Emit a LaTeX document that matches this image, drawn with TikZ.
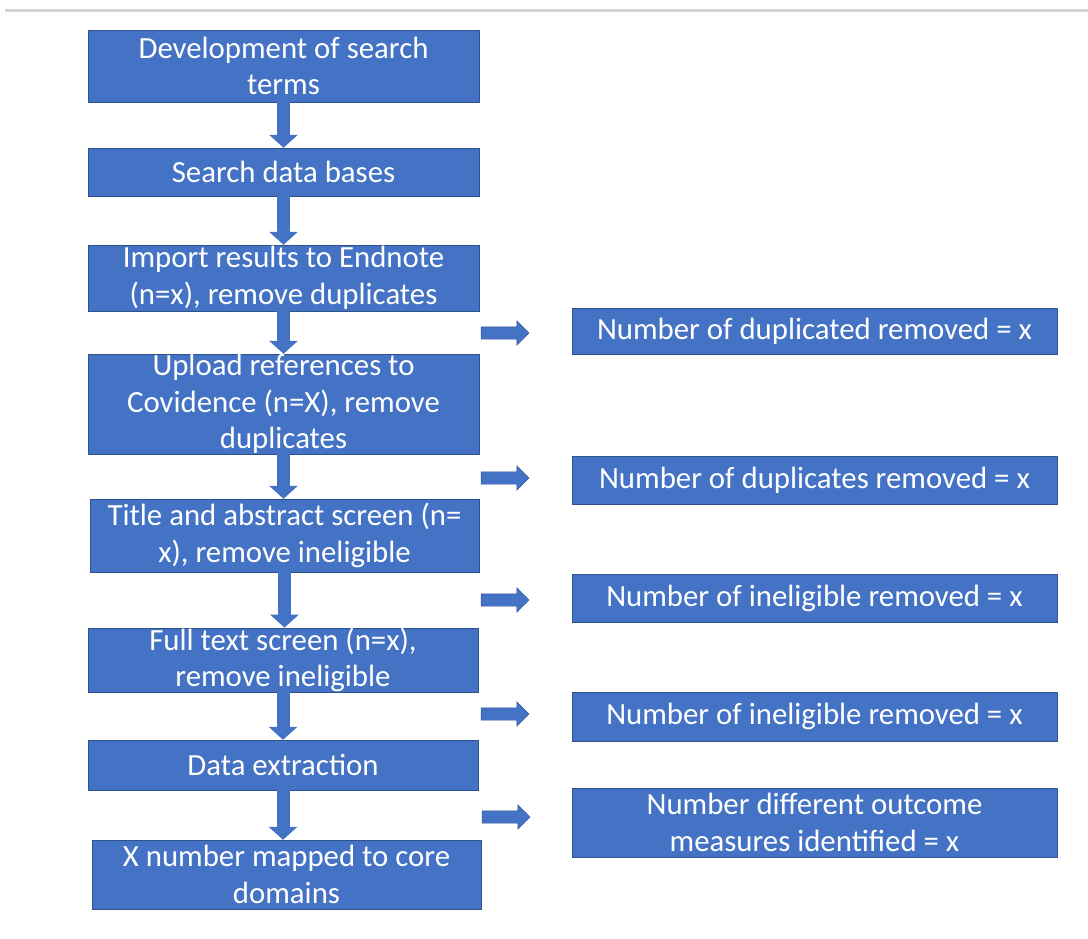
\documentclass[tikz,border=0pt]{standalone}
\usepackage{fontspec}
\setmainfont{Carlito}
\usepackage{xcolor}
\usepackage{tikz}
\usetikzlibrary{arrows.meta}
\usetikzlibrary{shapes.arrows}

\definecolor{boxblue}{HTML}{4472C4}
\definecolor{boxedge}{HTML}{2F528F}
\definecolor{rulegray}{HTML}{D4D4D4}

\tikzset{
    stepbox/.style = {draw = boxedge, fill = boxblue, text = white, align = center,
        inner sep = 0pt, font = \fontsize{30.8}{36.5}\selectfont},
    downarr/.style = {boxblue, line width = 13pt,
        -{Triangle[length = 13pt, width = 28pt]}, shorten <= -1pt},
    sidearr/.style = {single arrow, draw = boxedge, fill = boxblue, minimum height = 48pt,
        minimum width = 0pt, single arrow head extend = 6pt, inner xsep = 0pt,
        inner ysep = 6pt}
}

\begin{document}
\begin{tikzpicture}[x = 1pt, y = -1pt]
        \useasboundingbox (0, 0) rectangle (1088, 938);
        \draw[rulegray, line width = 3pt] (5, 10) -- (1088, 10);

        \node[stepbox, minimum width = 391pt, minimum height = 72pt] (develop) at (283.5, 66)
            {Development of search\\terms};
        \node[stepbox, minimum width = 391pt, minimum height = 48pt] (search) at (283.5, 172)
            {Search data bases};
        \node[stepbox, minimum width = 391pt, minimum height = 66pt] (import) at (283.5, 278)
            {Import results to Endnote\\(n=x), remove duplicates};
        \node[stepbox, minimum width = 391pt, minimum height = 100pt] (upload) at (283.5, 404)
            {Upload references to\\Covidence (n=X), remove\\duplicates};
        \node[stepbox, minimum width = 389pt, minimum height = 73pt] (title) at (284.5, 535.5)
            {Title and abstract screen (n=\\x), remove ineligible};
        \node[stepbox, minimum width = 390pt, minimum height = 64pt] (fulltext) at (283, 660)
            {Full text screen (n=x),\\remove ineligible};
        \node[stepbox, minimum width = 390pt, minimum height = 50pt] (extract) at (283, 765)
            {Data extraction};
        \node[stepbox, minimum width = 389pt, minimum height = 69pt] (mapped) at (286.5, 874.5)
            {X number mapped to core\\domains};

        \node[stepbox, minimum width = 485pt, minimum height = 46pt] (dupl1) at (814.5, 331)
            {Number of duplicated removed = x};
        \node[stepbox, minimum width = 485pt, minimum height = 48pt] (dupl2) at (814.5, 480)
            {Number of duplicates removed = x};
        \node[stepbox, minimum width = 485pt, minimum height = 48pt] (inel1) at (814.5, 598)
            {Number of ineligible removed = x};
        \node[stepbox, minimum width = 485pt, minimum height = 49pt] (inel2) at (814.5, 716.5)
            {Number of ineligible removed = x};
        \node[stepbox, minimum width = 485pt, minimum height = 69pt] (outcome) at (814.5, 822.5)
            {Number different outcome\\measures identified = x};

        \draw[downarr] (develop.south) -- (develop.south |- search.north);
        \draw[downarr] (search.south) -- (search.south |- import.north);
        \draw[downarr] (import.south) -- (import.south |- upload.north);
        \draw[downarr] (upload.south) -- (upload.south |- title.north);
        \draw[downarr] (title.south) -- (title.south |- fulltext.north);
        \draw[downarr] (fulltext.south) -- (fulltext.south |- extract.north);
        \draw[downarr] (extract.south) -- (extract.south |- mapped.north);

        \node[sidearr] (arr1) at (502, 333) {};
        \node[sidearr] (arr2) at (502, 478) {};
        \node[sidearr] (arr3) at (502, 600) {};
        \node[sidearr] (arr4) at (502, 714) {};
        \node[sidearr] (arr5) at (503, 817) {};
\end{tikzpicture}
\end{document}
